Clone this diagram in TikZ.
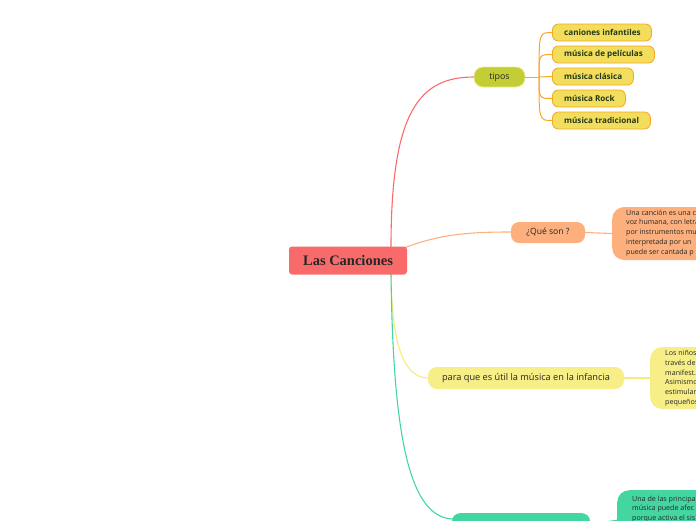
\documentclass[tikz,border=0pt]{standalone}
\usepackage{fontspec}
\setmainfont{Open Sans}
\newfontfamily\titlefont{Liberation Serif}
\begin{document}
\begin{tikzpicture}[x=1pt,y=-1pt,
  redc/.style={draw=cRed,line width=1.1pt},
  childbox/.style={draw=cOrange,fill=cChild,line width=0.8pt,rounded corners=6pt},
  childtxt/.style={font=\fontsize{8.1}{9}\selectfont\bfseries,text=cChildTxt,anchor=west,inner sep=0pt},
  smalltxt/.style={font=\fontsize{7.1}{9.8}\selectfont,text=black!85,anchor=north west,align=left,inner sep=0pt},
  orc/.style={draw=cOrange,line width=1pt}
]
\definecolor{cRed}{HTML}{F96B6B}
\definecolor{cTipos}{HTML}{C3CD35}
\definecolor{cTiposB}{HTML}{EFEB8C}
\definecolor{cChild}{HTML}{F2DE5C}
\definecolor{cOrange}{HTML}{F6A623}
\definecolor{cChildTxt}{HTML}{263818}
\definecolor{cPeach}{HTML}{FDB07E}
\definecolor{cYel}{HTML}{F7EE88}
\definecolor{cYelL}{HTML}{F6EC7E}
\definecolor{cGreen}{HTML}{44D6A1}
\useasboundingbox (0,0) rectangle (696,520);
\clip (0,0) rectangle (696,520);

% coordinates
\coordinate (mTop) at (391,247);
\coordinate (mTR) at (404,248);
\coordinate (mBot) at (391,273);
\coordinate (tL) at (474,77);
\coordinate (qL) at (511,232);
\coordinate (pL) at (429,378);
\coordinate (gL) at (454,519);

% main connectors
\draw[redc] (mTop) .. controls (391,110) and (420,77) .. (tL);
\draw[draw=cPeach,line width=1.1pt] (mTR) .. controls (440,234) and (470,232) .. (qL);
\draw[draw=cYelL,line width=1.1pt] (mBot) .. controls (392,350) and (405,378) .. (pL);
\draw[draw=cGreen,line width=1.1pt] (mBot) .. controls (393,440) and (410,519) .. (gL);

% main node
\node[fill=cRed,rounded corners=3pt,minimum width=118pt,minimum height=28pt,inner sep=0pt,
  font=\titlefont\fontsize{14.5}{16}\selectfont\bfseries,text=black!85] (main) at (348,260.5) {Las Canciones};

% tipos
\node[fill=cTipos,draw=cTiposB,line width=0.8pt,rounded corners=9pt,minimum width=51pt,minimum height=20pt,inner sep=0pt,
  font=\fontsize{8.8}{10}\selectfont,text=black!85] (tipos) at (499.5,77) {tipos};
\coordinate (tJ) at (539,77);
\draw[orc] (tipos.east) -- (tJ);

% children
\foreach \n/\y/\w/\t in {c1/32.5/99/caniones infantiles,c2/54.5/102/música de películas,c3/76.5/81/música clásica,c4/98.5/73/música Rock,c5/120.5/98/música tradicional}{
  \node[childbox,minimum width=\w pt,minimum height=17pt,inner sep=0pt,anchor=west] (\n) at (552,\y) {};
  \node[childtxt] at (564,\y) {\t};
}
\draw[orc] (tJ) .. controls (539,32.5) .. (c1.west);
\draw[orc] (tJ) .. controls (539,54.5) .. (c2.west);
\draw[orc] (tJ) -- (c3.west);
\draw[orc] (tJ) .. controls (539,98.5) .. (c4.west);
\draw[orc] (tJ) .. controls (539,120.5) .. (c5.west);

% que son
\node[fill=cPeach,rounded corners=8pt,minimum width=74pt,minimum height=21pt,inner sep=0pt,
  font=\fontsize{8.6}{10}\selectfont,text=black!85] (que) at (548,232.5) {¿Qué son ?};
\node[fill=cPeach,rounded corners=12pt,minimum width=120pt,minimum height=53pt,inner sep=0pt,anchor=west] (queD) at (612,233.5) {};
\draw[draw=cPeach,line width=1.1pt] (que.east) -- (queD.west);
\node[smalltxt] at (626,209.5) {Una canción es una c\\voz humana, con letra\\por instrumentos mu\\interpretada por un\\puede ser cantada p};

% para que
\node[fill=cYel,rounded corners=9pt,minimum width=196pt,minimum height=22pt,inner sep=0pt,
  font=\fontsize{9.2}{10}\selectfont,text=black!85] (para) at (526,378) {para que es útil la música en la infancia};
\node[fill=cYel,rounded corners=12pt,minimum width=100pt,minimum height=62pt,inner sep=0pt,anchor=west] (paraD) at (650,378) {};
\draw[draw=cYelL,line width=1.1pt] (para.east) -- (paraD.west);
\node[smalltxt] at (665,350) {Los niños\\través de\\manifest.\\Asimismo\\estimular\\pequeños};

% green
\node[fill=cGreen,rounded corners=8pt,minimum width=138pt,minimum height=22pt,inner sep=0pt,anchor=north] (gr) at (521,513) {};
\node[fill=cGreen,rounded corners=12pt,minimum width=110pt,minimum height=60pt,inner sep=0pt,anchor=north west] (grD) at (617,490) {};
\draw[draw=cGreen,line width=1.1pt] (gr.east) -- (grD.west);
\node[smalltxt] at (632,495.5) {Una de las principa\\música puede afec\\porque activa el sis};
\end{tikzpicture}
\end{document}
